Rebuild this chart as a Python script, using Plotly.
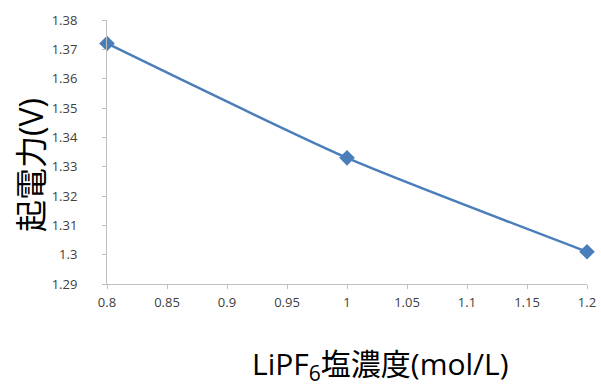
import plotly.graph_objects as go

concentration = [0.8, 1.0, 1.2]
emf = [1.372, 1.333, 1.301]
x_ticks = [0.8, 0.85, 0.9, 0.95, 1.0, 1.05, 1.1, 1.15, 1.2]
x_ticklabels = ["0.8", "0.85", "0.9", "0.95", "1", "1.05", "1.1", "1.15", "1.2"]
y_ticks = [1.29, 1.30, 1.31, 1.32, 1.33, 1.34, 1.35, 1.36, 1.37, 1.38]
y_ticklabels = ["1.29", "1.3", "1.31", "1.32", "1.33", "1.34", "1.35", "1.36", "1.37", "1.38"]

FONT = "Open Sans, Noto Sans CJK JP, sans-serif"
W, H = 601, 384
L, R, T, B = 107, 14, 20, 100
pw = W - L - R
ph = H - T - B

fig = go.Figure()
fig.add_trace(go.Scatter(
    x=concentration, y=emf, mode="lines+markers",
    line=dict(color="#4A7EBB", width=2.5, shape="spline", smoothing=0.6),
    marker=dict(symbol="diamond", size=12, color="#4A7EBB"),
    showlegend=False, cliponaxis=False,
))

axis_common = dict(showgrid=False, zeroline=False, showline=True,
                   linecolor="#BFBFBF", linewidth=1, ticks="outside",
                   ticklen=4, tickcolor="#BFBFBF", automargin=False,
                   tickfont=dict(family=FONT, size=13, color="#404040"))

fig.update_xaxes(range=[0.8, 1.2], tickvals=x_ticks, ticktext=x_ticklabels,
                 ticklabelstandoff=2, **axis_common)
fig.update_yaxes(range=[1.29, 1.38], tickvals=y_ticks, ticktext=y_ticklabels,
                 ticklabelstandoff=22, **axis_common)

fig.add_annotation(text="起電力(V)", xref="paper", yref="paper",
                   x=(30 - L) / pw, y=(H - B - 165) / ph,
                   xanchor="center", yanchor="middle",
                   showarrow=False, textangle=-90,
                   font=dict(family=FONT, size=32, color="#000000"))
fig.add_annotation(text="LiPF<sub>6</sub>塩濃度(mol/L)", xref="paper", yref="paper",
                   x=(380 - L) / pw, y=(H - B - 365) / ph,
                   xanchor="center", yanchor="middle", showarrow=False,
                   font=dict(family=FONT, size=30, color="#000000"))

fig.update_layout(
    width=W, height=H,
    margin=dict(l=L, r=R, t=T, b=B, autoexpand=False),
    paper_bgcolor="white", plot_bgcolor="white",
    font=dict(family=FONT),
)

fig.write_html("out.html", config={"displayModeBar": False},
               post_script="document.body.style.margin='0';document.body.style.overflow='hidden';")
